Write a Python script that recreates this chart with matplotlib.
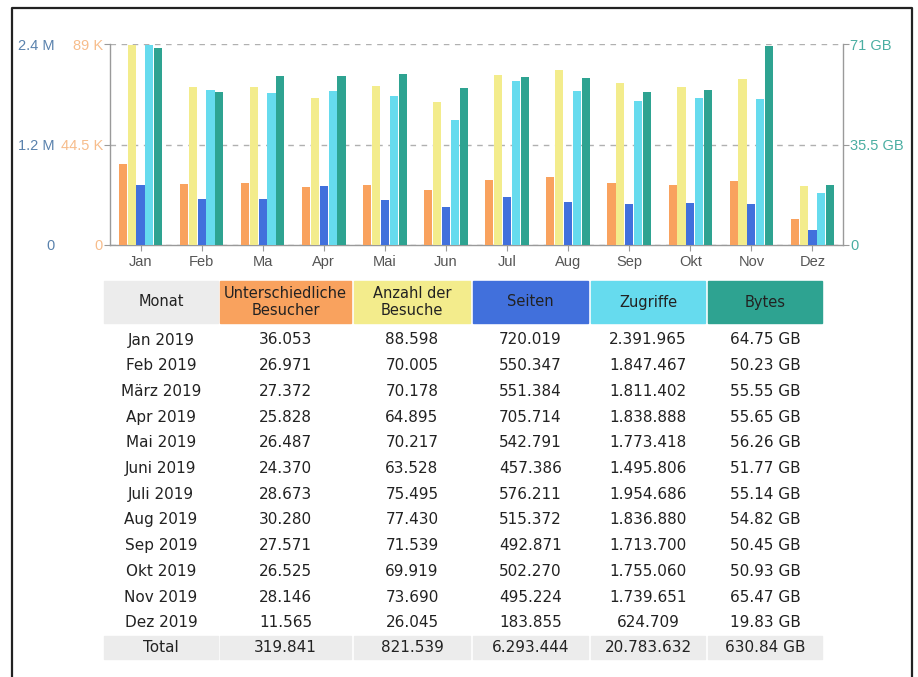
import matplotlib.pyplot as plt
import numpy as np
from matplotlib.patches import Rectangle
from matplotlib.ticker import FuncFormatter

months_short = ['Jan', 'Feb', 'Ma', 'Apr', 'Mai', 'Jun', 'Jul', 'Aug', 'Sep', 'Okt', 'Nov', 'Dez']
months_long = ['Jan 2019', 'Feb 2019', 'März 2019', 'Apr 2019', 'Mai 2019', 'Juni 2019',
               'Juli 2019', 'Aug 2019', 'Sep 2019', 'Okt 2019', 'Nov 2019', 'Dez 2019']
visitors = [36053, 26971, 27372, 25828, 26487, 24370, 28673, 30280, 27571, 26525, 28146, 11565]
visits = [88598, 70005, 70178, 64895, 70217, 63528, 75495, 77430, 71539, 69919, 73690, 26045]
pages = [720019, 550347, 551384, 705714, 542791, 457386, 576211, 515372, 492871, 502270, 495224, 183855]
hits = [2391965, 1847467, 1811402, 1838888, 1773418, 1495806, 1954686, 1836880, 1713700, 1755060, 1739651, 624709]
bytes_gb = [64.75, 50.23, 55.55, 55.65, 56.26, 51.77, 55.14, 54.82, 50.45, 50.93, 65.47, 19.83]
totals = ['319.841', '821.539', '6.293.444', '20.783.632', '630.84 GB']
headers = ['Monat', 'Unterschiedliche\nBesucher', 'Anzahl der\nBesuche', 'Seiten', 'Zugriffe', 'Bytes']

# axis maxima as drawn by the stats page
visit_max = 89000
hit_max = 2.4e6
byte_max = 71

c_vis = '#f9a25e'
c_vst = '#f3ec8c'
c_pag = '#4170dc'
c_hit = '#66dbee'
c_byt = '#2ea391'
c_head = '#ececec'
grey = '#9a9a9a'

plt.rcParams['font.family'] = ['Liberation Sans', 'DejaVu Sans']

fig = plt.figure(figsize=(9.18, 6.77), dpi=100)
ax = fig.add_axes([110 / 918, 1 - 245 / 677, 733 / 918, 201 / 677])
ax_h = ax.twinx()
ax_b = ax.twinx()

x = np.arange(len(months_short))
w = 0.145
ax.bar(x - 2 * w, visitors, w * 0.92, color=c_vis, zorder=3)
ax.bar(x - w, visits, w * 0.92, color=c_vst, zorder=3)
ax_h.bar(x, pages, w * 0.92, color=c_pag, zorder=3)
ax_h.bar(x + w, hits, w * 0.92, color=c_hit, zorder=3)
# table shows GiB, axis is labelled in decimal GB
ax_b.bar(x + 2 * w, np.array(bytes_gb) * 2 ** 30 / 1e9, w * 0.92, color=c_byt, zorder=3)

ax.set_xlim(-0.5, 11.5)
ax.set_ylim(0, visit_max)
ax_h.set_ylim(0, hit_max)
ax_b.set_ylim(0, byte_max)

ax.set_xticks(x)
ax.set_xticklabels(months_short, fontsize=10.5, color='#555555')
ax.tick_params(axis='x', length=4, color=grey, pad=3)

ax.set_yticks([0, visit_max / 2, visit_max])
ax.yaxis.set_major_formatter(FuncFormatter(lambda v, p: '0' if v == 0 else f'{v / 1000:g} K'))
ax.tick_params(axis='y', length=4, color=grey, labelcolor='#f7bd8c', labelsize=10.5, pad=1)
ax.yaxis.grid(True, color='#b0b0b0', linestyle=(0, (4, 4)), linewidth=1)
ax.set_axisbelow(True)

ax_h.yaxis.set_ticks_position('left')
ax_h.yaxis.set_label_position('left')
ax_h.set_yticks([0, hit_max / 2, hit_max])
ax_h.yaxis.set_major_formatter(FuncFormatter(lambda v, p: '0' if v == 0 else f'{v / 1e6:g} M'))
ax_h.tick_params(axis='y', length=0, labelcolor='#5a82ad', labelsize=10.5, pad=40)

ax_b.set_yticks([0, byte_max / 2, byte_max])
ax_b.yaxis.set_major_formatter(FuncFormatter(lambda v, p: '0' if v == 0 else f'{v:g} GB'))
ax_b.tick_params(axis='y', length=4, color=grey, labelcolor='#4aaea2', labelsize=10.5, pad=1)

for a in (ax, ax_h, ax_b):
    for s in a.spines.values():
        s.set_visible(False)
ax.spines['left'].set_visible(True)
ax.spines['bottom'].set_visible(True)
ax_b.spines['right'].set_visible(True)
for s in (ax.spines['left'], ax.spines['bottom'], ax_b.spines['right']):
    s.set_color(grey)
    s.set_linewidth(1)

# table below the chart, in pixel coordinates
tab = fig.add_axes([0, 0, 1, 1], zorder=-1)
tab.set_xlim(0, 918)
tab.set_ylim(677, 0)
tab.axis('off')

col_left = [104, 220, 354, 473, 591, 708]
col_w = [114, 131, 116, 115, 114, 114]
head_cols = [c_head, c_vis, c_vst, c_pag, c_hit, c_byt]

for i in range(6):
    tab.add_patch(Rectangle((col_left[i], 281), col_w[i], 42, color=head_cols[i]))
    tab.text(col_left[i] + col_w[i] / 2, 302, headers[i], ha='center', va='center',
             fontsize=10.5, family='DejaVu Sans', color='#222222', linespacing=1.1)

def de(v):
    return f'{v:,}'.replace(',', '.')

row_y0 = 340
row_h = 25.7
for r in range(12):
    vals = [months_long[r], de(visitors[r]), de(visits[r]), de(pages[r]), de(hits[r]),
            f'{bytes_gb[r]:.2f} GB']
    for i in range(6):
        tab.text(col_left[i] + col_w[i] / 2, row_y0 + r * row_h, vals[i], ha='center', va='center',
                 fontsize=11, family='DejaVu Sans', color='#222222')

vals = ['Total'] + totals
for i in range(6):
    tab.add_patch(Rectangle((col_left[i], 636), col_w[i], 23, color=c_head))
    tab.text(col_left[i] + col_w[i] / 2, 648, vals[i], ha='center', va='center',
             fontsize=11, family='DejaVu Sans', color='#222222')

# screenshot frame
tab.plot([12, 12, 912, 912], [677, 8, 8, 677], color='#222222', linewidth=1.6)

fig.savefig('out.png', dpi=100)
